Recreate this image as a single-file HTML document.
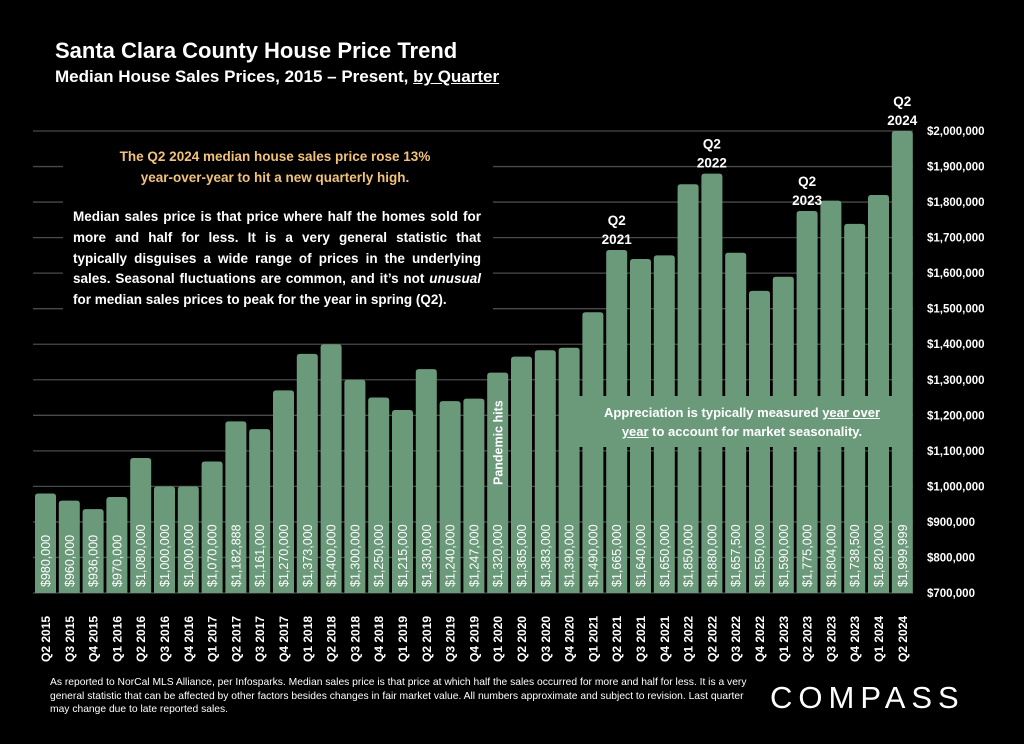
<!DOCTYPE html>
<html><head><meta charset="utf-8"><style>
body{margin:0;background:#000;width:1024px;height:744px;overflow:hidden;font-family:"Liberation Sans",sans-serif;color:#fff}
svg{position:absolute;left:0;top:0;z-index:0}
.t{position:absolute;color:#fff;z-index:2}
.jl{display:block;text-align:justify;text-align-last:justify;white-space:nowrap}
.jl.last{text-align-last:left}
</style></head><body>
<svg id="c" width="1024" height="744"></svg>
<div class="t" style="left:55px;top:38px;font-size:22px;font-weight:bold">Santa Clara County House Price Trend</div>
<div class="t" style="left:55px;top:67px;font-size:17px;font-weight:bold">Median House Sales Prices, 2015 – Present, <u>by Quarter</u></div>
<div class="t" style="left:63px;top:134px;width:430px;height:188px;background:#000;z-index:1"></div>
<div class="t" style="left:80px;top:146px;width:390px;text-align:center;font-size:13.5px;font-weight:bold;color:#f2c27a;line-height:21px">The Q2 2024 median house sales price rose 13%<br>year-over-year to hit a new quarterly high.</div>
<div class="t" style="left:73px;top:207px;width:408px;font-size:13.5px;font-weight:bold;line-height:20.8px">
<span class="jl" style="white-space:normal">Median sales price is that price where half the homes sold for</span>
<span class="jl" style="white-space:normal">more and half for less. It is a very general statistic that</span>
<span class="jl" style="white-space:normal">typically disguises a wide range of prices in the underlying</span>
<span class="jl" style="white-space:normal">sales. Seasonal fluctuations are common, and it’s not <i>unusual</i></span>
<span class="jl last" style="white-space:normal">for median sales prices to peak for the year in spring (Q2).</span>
</div>
<div class="t" style="left:572px;top:396px;width:340px;height:51px;box-sizing:border-box;padding-top:7px;text-align:center;font-size:13px;font-weight:bold;line-height:19px;background:#6b9a7b">Appreciation is typically measured <u>year over</u><br><u>year</u> to account for market seasonality.</div>
<div class="t" style="left:50px;top:676px;width:700px;font-size:10.3px;line-height:13.5px">As reported to NorCal MLS Alliance, per Infosparks. Median sales price is that price at which half the sales occurred for more and half for less. It is a very general statistic that can be affected by other factors besides changes in fair market value. All numbers approximate and subject to revision. Last quarter may change due to late reported sales.</div>
<div class="t" style="left:770px;top:680px;font-size:31px;letter-spacing:6px">COMPASS</div>
<script>
const categories=["Q2 2015","Q3 2015","Q4 2015","Q1 2016","Q2 2016","Q3 2016","Q4 2016","Q1 2017","Q2 2017","Q3 2017","Q4 2017","Q1 2018","Q2 2018","Q3 2018","Q4 2018","Q1 2019","Q2 2019","Q3 2019","Q4 2019","Q1 2020","Q2 2020","Q3 2020","Q4 2020","Q1 2021","Q2 2021","Q3 2021","Q4 2021","Q1 2022","Q2 2022","Q3 2022","Q4 2022","Q1 2023","Q2 2023","Q3 2023","Q4 2023","Q1 2024","Q2 2024"];
const values=[980000,960000,936000,970000,1080000,1000000,1000000,1070000,1182888,1161000,1270000,1373000,1400000,1300000,1250000,1215000,1330000,1240000,1247000,1320000,1365000,1383000,1390000,1490000,1665000,1640000,1650000,1850000,1880000,1657500,1550000,1590000,1775000,1804000,1738500,1820000,1999999];
const ticks=[700000,800000,900000,1000000,1100000,1200000,1300000,1400000,1500000,1600000,1700000,1800000,1900000,2000000];
const callouts=[["Q2 2021","Q2","2021"],["Q2 2022","Q2","2022"],["Q2 2023","Q2","2023"],["Q2 2024","Q2","2024"]];
const svg=document.getElementById('c');const NS="http://www.w3.org/2000/svg";
const y=v=>593-(v-700000)/1300000*462;
const x=i=>45.5+i*23.8;
function mk(t,a){const e=document.createElementNS(NS,t);for(const k in a)e.setAttribute(k,a[k]);svg.appendChild(e);return e;}
function fmt(v){return "$"+v.toLocaleString("en-US");}
ticks.forEach(t=>{
 const l=mk('line',{x1:33,x2:913,y1:y(t),y2:y(t),stroke:'#4a4a4a','stroke-width':1.3});
 
 
 const tx=mk('text',{x:927,y:y(t)+4,'font-size':11.5,'font-weight':'bold',fill:'#fff'});
 tx.textContent=fmt(t);
 
 
});
values.forEach((v,i)=>{
 const cx=x(i),top=y(v),b=593;
 const p=mk('path',{d:`M${cx-10.5},${b}V${top+3}Q${cx-10.5},${top} ${cx-7.5},${top}H${cx+7.5}Q${cx+10.5},${top} ${cx+10.5},${top+3}V${b}Z`,fill:'#6b9a7b'});
 
 
 const vt=mk('text',{x:0,y:0,transform:`translate(${cx+4.5},587) rotate(-90)`,'font-size':12.5,fill:'#fff'});
 vt.textContent=fmt(v);
 
 
 const ct=mk('text',{x:0,y:0,transform:`translate(${cx+4.5},662) rotate(-90)`,'font-size':12,'font-weight':'bold',fill:'#fff'});
 ct.textContent=categories[i];
 
 
});
callouts.forEach(c=>{
 const i=categories.indexOf(c[0]);const t=y(values[i]);
 [c[1],c[2]].forEach((s,k)=>{
  const e=mk('text',{x:x(i),y:t-25+k*19,'text-anchor':'middle','font-size':13.5,'font-weight':'bold',fill:'#fff'});
  e.textContent=s;
  
  
 });
});
const ph=mk('text',{x:0,y:0,transform:`translate(${x(19)+5},485) rotate(-90)`,'font-size':12.5,'font-weight':'bold',fill:'#fff'});
ph.textContent="Pandemic hits";


</script>
</body></html>
